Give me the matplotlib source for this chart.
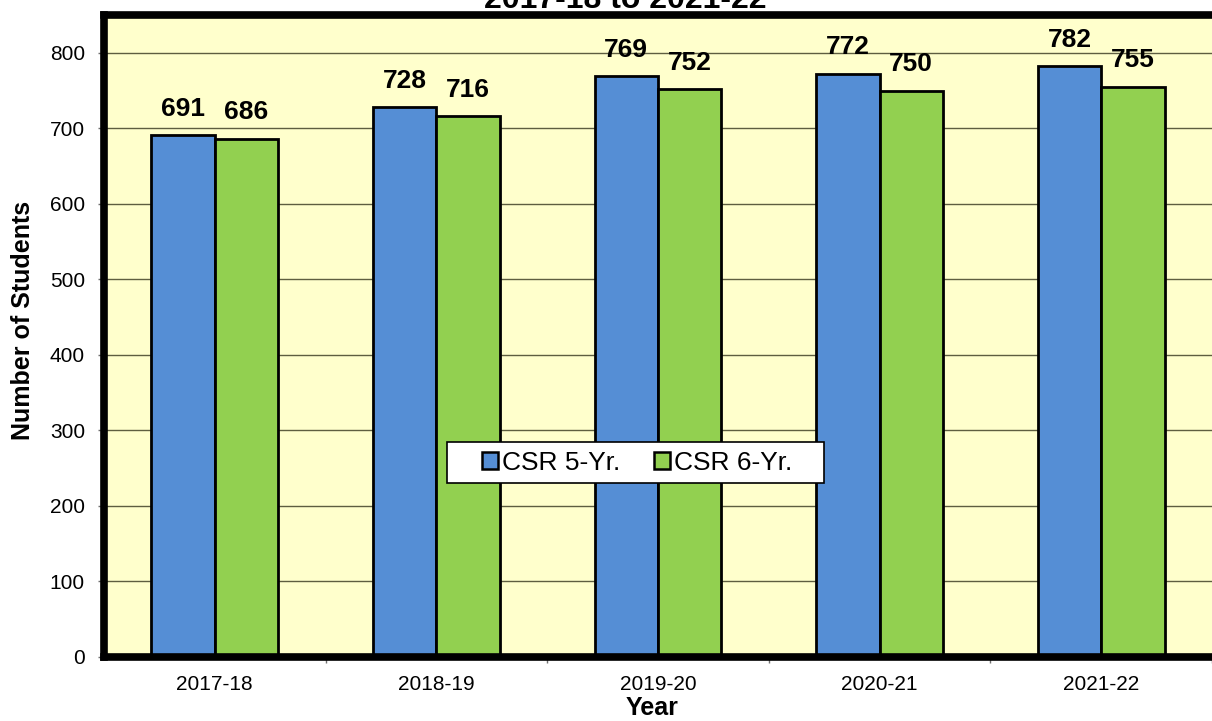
import matplotlib
matplotlib.use("Agg")
import matplotlib.pyplot as plt
from matplotlib.patches import Rectangle
import numpy as np

years = ["2017-18", "2018-19", "2019-20", "2020-21", "2021-22"]
csr5 = [691, 728, 769, 772, 782]
csr6 = [686, 716, 752, 750, 755]
series_names = ["CSR 5-Yr.", "CSR 6-Yr."]
title = "2017-18 to 2021-22"
yticks = [0, 100, 200, 300, 400, 500, 600, 700, 800]

plt.rcParams['font.family'] = ['Liberation Sans', 'DejaVu Sans']

W, H = 1212, 721
fig = plt.figure(figsize=(W / 100, H / 100), dpi=100)
left_px, right_px, top_px, bot_px = 104, 1212, 15, 657
ax_w = right_px - left_px
ax_h = bot_px - top_px
ax = fig.add_axes([left_px / W, 1 - bot_px / H, ax_w / W, ax_h / H])
ax.set_facecolor('#FFFFCC')

x = np.arange(len(years))
w = 0.286
b1 = ax.bar(x - w / 2, csr5, w, color='#558ED5', edgecolor='black', linewidth=2, label=series_names[0], zorder=3)
b2 = ax.bar(x + w / 2, csr6, w, color='#92D050', edgecolor='black', linewidth=2, label=series_names[1], zorder=3)

for bars, vals in ((b1, csr5), (b2, csr6)):
    for r, v in zip(bars, vals):
        ax.annotate(str(v), (r.get_x() + r.get_width() / 2, v), xytext=(0, 14),
                    textcoords='offset points', ha='center', va='baseline',
                    fontsize=19, fontweight='bold', zorder=5)

ax.set_xlim(-0.5, -0.5 + ax_w / 223.75)
ax.set_ylim(0, 850)
ax.set_yticks(yticks)
ax.set_yticklabels([str(t) for t in yticks], fontsize=15)
ax.yaxis.grid(True, color='#5e5e40', linewidth=1, zorder=0)
ax.set_axisbelow(True)

ax.set_xticks(x)
ax.set_xticklabels(years, fontsize=15)
ax.tick_params(axis='x', which='major', length=0, pad=13)
ax.set_xticks(np.arange(len(years)) + 0.5, minor=True)
ax.tick_params(axis='x', which='minor', length=4, color='#707070', width=1, direction='out')
ax.tick_params(axis='y', length=4, color='#707070', width=1, direction='out', pad=9.7)

for s in ('left', 'top', 'bottom'):
    ax.spines[s].set_linewidth(5.5)
    ax.spines[s].set_color('black')
    ax.spines[s].set_zorder(6)
ax.spines['right'].set_visible(False)

fig.text(23 / W, 1 - 320 / H, 'Number of Students', rotation=90, ha='center', va='center',
         fontsize=18, fontweight='bold')
fig.text(652 / W, 1 - 708 / H, 'Year', ha='center', va='center', fontsize=18, fontweight='bold')

# legend box
lx0, lx1, ly0, ly1 = 447, 824, 442, 483
ax.add_patch(Rectangle(((lx0 - left_px) / ax_w, (bot_px - ly1) / ax_h),
                       (lx1 - lx0) / ax_w, (ly1 - ly0) / ax_h, transform=ax.transAxes,
                       facecolor='white', edgecolor='black', linewidth=1.2, zorder=7))
leg = ax.legend(loc='center left', bbox_to_anchor=((482 - left_px) / ax_w, (bot_px - 462.5) / ax_h),
                ncol=2, fontsize=19, frameon=False, borderpad=0, borderaxespad=0,
                handlelength=0.6, handleheight=0.6, handletextpad=0.15, columnspacing=1.29)
leg.set_zorder(8)
for h in leg.legend_handles:
    h.set_linewidth(1.8)

fig.text(625 / W, 1 - 8 / H, title, ha='center', va='baseline', fontsize=23, fontweight='bold')

fig.savefig('out.png', dpi=100)
